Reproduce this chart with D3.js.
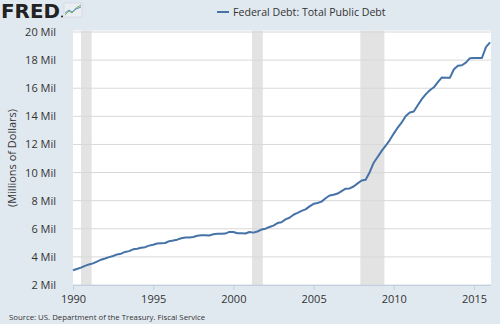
<!DOCTYPE html>
<html><head><meta charset="utf-8">
<script src="https://cdn.jsdelivr.net/npm/d3@7"></script>
<style>body{margin:0;background:#e1e9f0;}svg{display:block;font-family:"Open Sans",sans-serif;}</style>
</head><body>
<svg id="c" width="500" height="324"></svg>
<script>
const quarters = ["1990-01","1990-04","1990-07","1990-10","1991-01","1991-04","1991-07","1991-10","1992-01","1992-04","1992-07","1992-10","1993-01","1993-04","1993-07","1993-10","1994-01","1994-04","1994-07","1994-10","1995-01","1995-04","1995-07","1995-10","1996-01","1996-04","1996-07","1996-10","1997-01","1997-04","1997-07","1997-10","1998-01","1998-04","1998-07","1998-10","1999-01","1999-04","1999-07","1999-10","2000-01","2000-04","2000-07","2000-10","2001-01","2001-04","2001-07","2001-10","2002-01","2002-04","2002-07","2002-10","2003-01","2003-04","2003-07","2003-10","2004-01","2004-04","2004-07","2004-10","2005-01","2005-04","2005-07","2005-10","2006-01","2006-04","2006-07","2006-10","2007-01","2007-04","2007-07","2007-10","2008-01","2008-04","2008-07","2008-10","2009-01","2009-04","2009-07","2009-10","2010-01","2010-04","2010-07","2010-10","2011-01","2011-04","2011-07","2011-10","2012-01","2012-04","2012-07","2012-10","2013-01","2013-04","2013-07","2013-10","2014-01","2014-04","2014-07","2014-10","2015-01","2015-04","2015-07","2015-10","2016-01"];
const debt = [3052,3143,3233,3364,3465,3538,3665,3801,3881,3984,4065,4177,4230,4352,4411,4536,4576,4646,4693,4801,4864,4951,4974,4989,5118,5161,5225,5323,5381,5376,5413,5502,5542,5548,5526,5614,5651,5638,5656,5776,5773,5686,5674,5662,5774,5726,5807,5943,6006,6126,6228,6405,6460,6670,6783,6998,7131,7274,7379,7596,7777,7836,7933,8170,8371,8420,8507,8680,8849,8868,9008,9229,9437,9492,10025,10700,11127,11545,11910,12311,12773,13202,13562,14025,14270,14343,14790,15223,15582,15856,16066,16433,16771,16738,16738,17352,17601,17633,17824,18141,18152,18152,18151,18922,19264];
const recessions = [["1990-07","1991-03"],["2001-03","2001-11"],["2007-12","2009-06"]];
const yTicks = [2,4,6,8,10,12,14,16,18,20];
const xTicks = [1990,1995,2000,2005,2010,2015];

const parse = d3.timeParse("%Y-%m");
const svg = d3.select("#c");
const L=73, R=490, T=32, B=285;
const x = d3.scaleTime().domain([parse("1990-01"), parse("2016-01")]).range([L,R]);
const y = d3.scaleLinear().domain([2,20]).range([B,T]);

svg.append("rect").attr("x",L).attr("y",T-1.5).attr("width",R-L+1).attr("height",B-T+1.5).attr("fill","#fff");
svg.append("g").selectAll("rect").data(recessions).join("rect")
  .attr("x",d=>x(parse(d[0]))).attr("width",d=>x(parse(d[1]))-x(parse(d[0])))
  .attr("y",T-1.5).attr("height",B-T+1.5).attr("fill","#e3e3e3");
svg.append("g").selectAll("line").data(yTicks).join("line")
  .attr("x1",L).attr("x2",R+1).attr("y1",d=>y(d)).attr("y2",d=>y(d))
  .attr("stroke","#d8d8d8").attr("stroke-width",1);
svg.append("g").selectAll("text").data(yTicks).join("text")
  .attr("x",56).attr("y",d=>y(d)+4).attr("text-anchor","end")
  .attr("font-size",11).attr("fill","#333").text(d=>d+" Mil");
const xa = svg.append("g").attr("transform",`translate(0,${B})`)
  .call(d3.axisBottom(x).tickValues(xTicks.map(v=>new Date(v,0,1))).tickFormat(d3.timeFormat("%Y")).tickSize(5).tickSizeOuter(0));
xa.select(".domain").attr("stroke","#c0d0e0");
xa.selectAll(".tick line").attr("stroke","#c0d0e0");
xa.selectAll(".tick text").attr("font-size",11).attr("fill","#333").attr("font-family","Open Sans").attr("dy","0.95em");
const data = quarters.map((q,i)=>({d:parse(q),v:debt[i]/1000}));
svg.append("path").datum(data).attr("fill","none").attr("stroke","#4572a7").attr("stroke-width",2)
  .attr("stroke-linejoin","round")
  .attr("d",d3.line().x(d=>x(d.d)).y(d=>y(d.v)));
svg.append("text").attr("transform","translate(16,158) rotate(-90)").attr("text-anchor","middle")
  .attr("font-size",11).attr("fill","#333").text("(Millions of Dollars)");
svg.append("line").attr("x1",217).attr("x2",229).attr("y1",12).attr("y2",12).attr("stroke","#4572a7").attr("stroke-width",2);
svg.append("text").attr("x",233).attr("y",16).attr("font-size",10.6).attr("fill","#333").text("Federal Debt: Total Public Debt");
svg.append("text").attr("x",9).attr("y",320).attr("font-size",7.8).attr("fill","#333").text("Source: US. Department of the Treasury. Fiscal Service");
// FRED logo
svg.append("text").attr("x",1).attr("y",17.5).attr("font-size",20).attr("font-weight",900).attr("fill","#222")
  .attr("font-family","DejaVu Sans").attr("textLength",59).attr("lengthAdjust","spacingAndGlyphs").text("FRED");
svg.append("circle").attr("cx",62).attr("cy",16.5).attr("r",1).attr("fill","#222");
const lg = svg.append("g").attr("transform","translate(64,3)");
lg.append("rect").attr("width",18).attr("height",14).attr("fill","#e8eef2").attr("stroke","#ccd").attr("stroke-width",0.5);
lg.append("path").attr("d","M1,12 L5,8 L8,10 L12,5 L17,2").attr("fill","none").attr("stroke","#7ab04a").attr("stroke-width",1);
lg.append("path").attr("d","M1,10 L5,7 L8,9 L12,6 L17,4").attr("fill","none").attr("stroke","#5b8fc7").attr("stroke-width",1);
</script>
</body></html>
